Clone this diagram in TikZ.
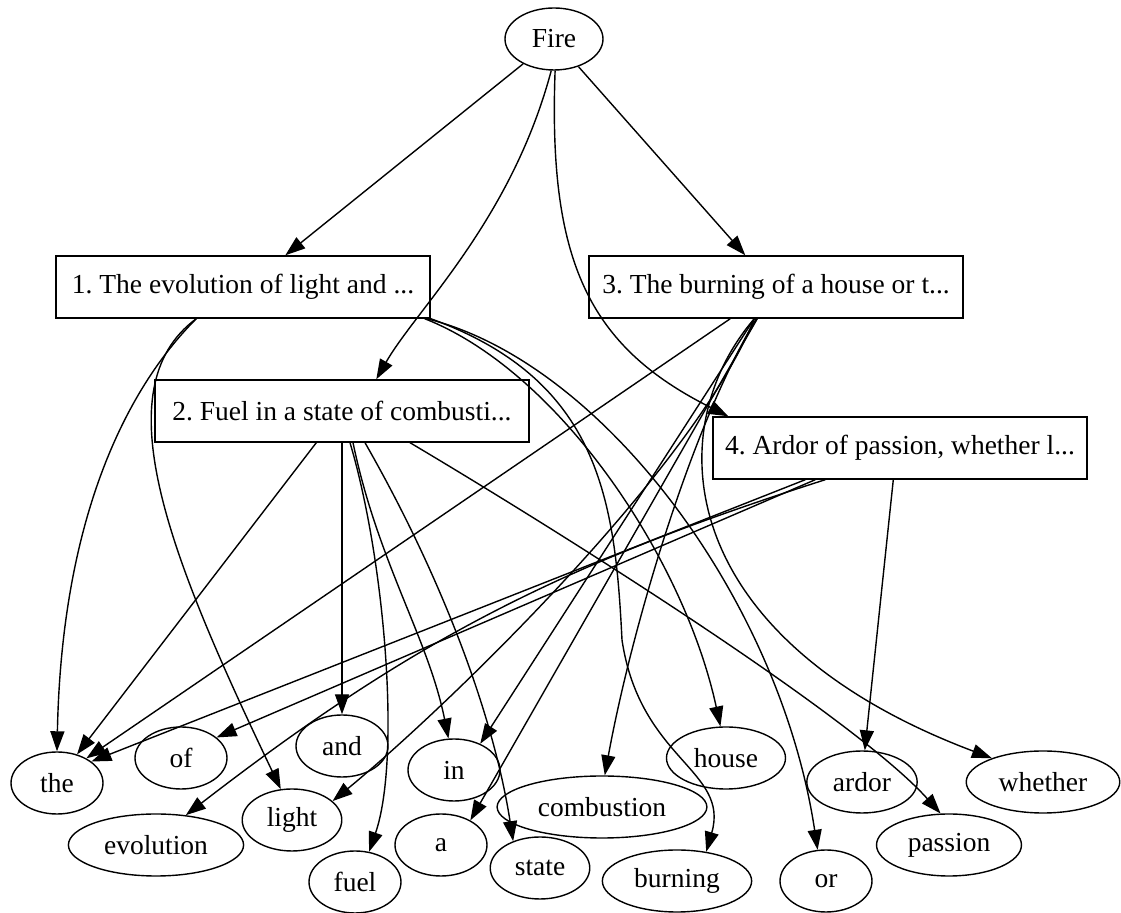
\documentclass[tikz,border=0pt]{standalone}
\usepackage{fontspec}
\setmainfont{Liberation Serif}
\usepackage{tikz}
\usetikzlibrary{calc,shapes.geometric,arrows.meta}
\frenchspacing

\begin{document}
\begin{tikzpicture}[
    x=0.5pt, y=-0.5pt,
    font=\fontsize{13.75}{16}\selectfont,
    word/.style={draw, ellipse, line width=0.7pt,
      inner xsep=5pt, inner ysep=0pt,
      minimum width=46pt, minimum height=31pt},
    sense/.style={draw, rectangle, line width=0.7pt,
      minimum width=187pt, minimum height=31pt},
    edge/.style={-{Triangle[length=10pt,width=7pt]}, line width=0.7pt}
  ]
  \useasboundingbox (0,0) rectangle (1121,913);

  % root and the four senses
  \node[word, minimum width=49pt] (fire) at (554,39) {Fire};
  \node[sense] (s1) at (243,287) {1. The evolution of light and ...};
  \node[sense] (s2) at (342,411) {2. Fuel in a state of combusti...};
  \node[sense] (s3) at (776,287) {3. The burning of a house or t...};
  \node[sense] (s4) at (900,448) {4. Ardor of passion, whether l...};

  % words
  \node[word] (the) at (57,783) {the};
  \node[word] (of) at (181,758) {of};
  \node[word] (and) at (342,746) {and};
  \node[word] (in) at (454,770) {in};
  \node[word] (evolution) at (156,845) {evolution};
  \node[word] (light) at (292,820) {light};
  \node[word] (fuel) at (355,882) {fuel};
  \node[word] (a) at (441,845) {a};
  \node[word] (state) at (540,868) {state};
  \node[word] (combustion) at (602,807) {combustion};
  \node[word] (house) at (726,758) {house};
  \node[word] (burning) at (677,881) {burning};
  \node[word] (or) at (826,881) {or};
  \node[word] (ardor) at (862,782) {ardor};
  \node[word] (passion) at (949,845) {passion};
  \node[word] (whether) at (1043,782) {whether};

  % Fire to senses
  \draw[edge] (fire) -- ($(s1.north west)+(230,0)$);
  \draw[edge] (fire) -- ($(s3.north west)+(157,0)$);
  \draw[edge] (fire.265) .. controls +(-40,150) and +(40,-70) .. ($(s2.north west)+(222,0)$);
  \draw[edge] (fire.272) .. controls +(-7,190) and +(-140,-70) .. ($(s4.north west)+(16,0)$);

  % sense 1
  \draw[edge] ($(s1.south west)+(141,0)$) .. controls +(-60,60) and +(5,-250) .. (the.north);
  \draw[edge] ($(s1.south west)+(141,0)$) .. controls +(-95,70) and +(-110,-230) .. (light.110);
  \draw[edge] ($(s1.south east)+(-6,0)$) .. controls +(135,53) and +(-36,-167) .. (house.100);
  \draw[edge] ($(s1.south east)+(-4,0)$) .. controls +(175,43) and +(-38,-251) .. (or.105);
  \draw[edge] (s1.south east) .. controls (600,380) and (615,500) .. (622,640)
    .. controls (640,760) and (730,770) .. (burning.45);

  % sense 2
  \draw[edge] ($(s2.south west)+(162,0)$) -- (the.55);
  \draw[edge] (s2.south) -- (and.north);
  \draw[edge] ($(s2.south)+(8,0)$) .. controls +(35,118) and +(32,-93) .. (fuel.65);
  \draw[edge] ($(s2.south)+(11,0)$) .. controls +(25,120) and +(-20,-100) .. (in.100);
  \draw[edge] ($(s2.south)+(23,0)$) .. controls +(80,140) and +(-19,-122) .. (state.135);
  \draw[edge] ($(s2.south)+(68,0)$) .. controls +(160,95) and +(-85,-95) .. (passion.105);

  % sense 3
  \draw[edge] ($(s3.south west)+(142,0)$) -- (the.40);
  \draw[edge] ($(s3.south west)+(166,0)$) .. controls +(-60,150) and +(110,-90) .. (light.25);
  \draw[edge] ($(s3.south west)+(166,0)$) -- (in.45);
  \draw[edge] ($(s3.south west)+(169,0)$) -- (a.40);
  \draw[edge] ($(s3.south west)+(168,0)$) .. controls +(-68,113) and +(25,-137) .. (combustion.85);
  \draw[edge] ($(s3.south west)+(166,0)$) .. controls +(-97,113) and +(-316,-119) .. (whether.155);

  % sense 4
  \draw[edge] ($(s4.south west)+(93,0)$) -- (the.32);
  \draw[edge] ($(s4.south west)+(103,0)$) -- (of.30);
  \draw[edge] ($(s4.south west)+(113,0)$) to[bend right=10] (evolution.45);
  \draw[edge] ($(s4.south west)+(181,0)$) -- (ardor.85);
\end{tikzpicture}
\end{document}
